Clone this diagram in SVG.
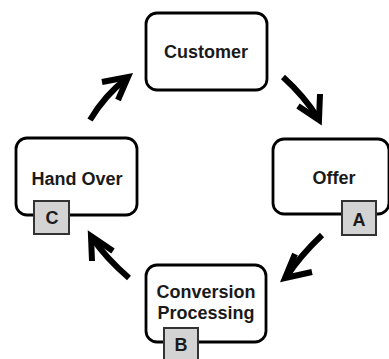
<svg xmlns="http://www.w3.org/2000/svg" width="389" height="359" viewBox="0 0 389 359">
<style>
.box{fill:#fff;stroke:#000;stroke-width:2.8}
.tag{fill:#d3d3d3;stroke:#333;stroke-width:2}
.lbl{font-family:"Liberation Sans",Arial,sans-serif;font-weight:bold;font-size:18px;fill:#1a1a1a;text-anchor:middle}
.arr{fill:none;stroke:#000;stroke-width:6;stroke-linecap:butt;stroke-linejoin:miter}
</style>
<rect width="389" height="359" fill="#fff"/>
<g id="connectors">
<path class="arr" d="M283,77 Q304,96 318,118"/>
<path class="arr" d="M298,106 L319,120 L320,94"/>
<path class="arr" d="M322,235 Q300,256 287,276"/>
<path class="arr" d="M295,254 L285,278 L312,272"/>
<path class="arr" d="M129,278 Q106,258 93,239"/>
<path class="arr" d="M92,261 L91,236 L113,251"/>
<path class="arr" d="M90,120 Q105,95 126,79"/>
<path class="arr" d="M102,82 L128,77 L118,100"/>
</g>
<g id="customer">
<rect class="box" x="146" y="13" width="121" height="77" rx="11"/>
<text class="lbl" x="206" y="58">Customer</text>
</g>
<g id="offer">
<rect class="box" x="273" y="139" width="116" height="75" rx="11"/>
<text class="lbl" x="334" y="184">Offer</text>
<g id="tag-a">
<rect class="tag" x="342" y="201" width="34" height="34"/>
<text class="lbl" x="359" y="226">A</text>
</g>
</g>
<g id="conversion">
<rect class="box" x="146" y="265" width="120" height="77" rx="11"/>
<text class="lbl" x="206" y="298">Conversion</text>
<text class="lbl" x="206" y="319">Processing</text>
<g id="tag-b">
<rect class="tag" x="164" y="328" width="34" height="34"/>
<text class="lbl" x="181" y="351">B</text>
</g>
</g>
<g id="handover">
<rect class="box" x="16" y="138" width="121" height="77" rx="11"/>
<text class="lbl" x="77" y="185">Hand Over</text>
<g id="tag-c">
<rect class="tag" x="34" y="201" width="35" height="33"/>
<text class="lbl" x="52" y="224">C</text>
</g>
</g>
</svg>
